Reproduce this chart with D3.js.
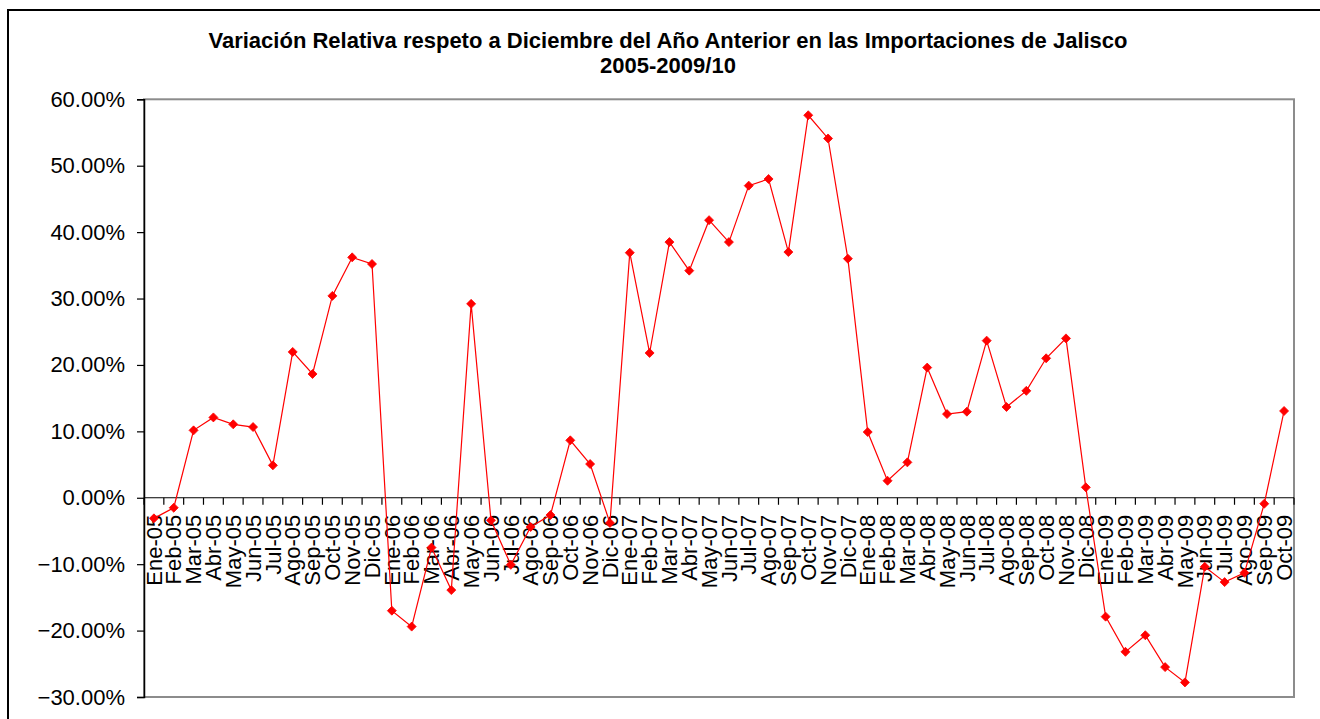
<!DOCTYPE html>
<html>
<head>
<meta charset="utf-8">
<script src="https://cdn.jsdelivr.net/npm/d3@7"></script>
<style>
  html, body { margin: 0; padding: 0; background: #fff; }
  svg { display: block; }
  text { font-family: Arial, "Liberation Sans", sans-serif; fill: #000; }
</style>
</head>
<body>
<svg id="chart" width="1320" height="719"></svg>
<script>
const categories = [
  "Ene-05","Feb-05","Mar-05","Abr-05","May-05","Jun-05","Jul-05","Ago-05","Sep-05","Oct-05","Nov-05","Dic-05",
  "Ene-06","Feb-06","Mar-06","Abr-06","May-06","Jun-06","Jul-06","Ago-06","Sep-06","Oct-06","Nov-06","Dic-06",
  "Ene-07","Feb-07","Mar-07","Abr-07","May-07","Jun-07","Jul-07","Ago-07","Sep-07","Oct-07","Nov-07","Dic-07",
  "Ene-08","Feb-08","Mar-08","Abr-08","May-08","Jun-08","Jul-08","Ago-08","Sep-08","Oct-08","Nov-08","Dic-08",
  "Ene-09","Feb-09","Mar-09","Abr-09","May-09","Jun-09","Jul-09","Ago-09","Sep-09","Oct-09"
];
const variacion = [
  -0.031, -0.015, 0.1015, 0.121, 0.1106, 0.1065, 0.0488, 0.2196, 0.1864, 0.304, 0.362, 0.352,
  -0.170, -0.194, -0.075, -0.139, 0.292, -0.034, -0.101, -0.044, -0.026, 0.0865, 0.0508, -0.038,
  0.369, 0.218, 0.385, 0.342, 0.418, 0.385, 0.470, 0.480, 0.370, 0.576, 0.541, 0.360,
  0.099, 0.0256, 0.0533, 0.196, 0.126, 0.1296, 0.2366, 0.1367, 0.161, 0.210, 0.240, 0.0157,
  -0.179, -0.232, -0.207, -0.255, -0.278, -0.104, -0.127, -0.113, -0.009, 0.1307
];
const yTicks = [-0.3, -0.2, -0.1, 0, 0.1, 0.2, 0.3, 0.4, 0.5, 0.6];
const titleLines = [
  "Variación Relativa respeto a Diciembre del Año Anterior en las Importaciones de Jalisco",
  "2005-2009/10"
];

const svg = d3.select("#chart");
const plot = { left: 144, right: 1294, top: 99.3, bottom: 697 };

// outer chart border
svg.append("rect")
  .attr("x", 8).attr("y", 10).attr("width", 1340).attr("height", 740)
  .attr("fill", "#fff").attr("stroke", "#000").attr("stroke-width", 2);

// title
svg.append("g").selectAll("text").data(titleLines).join("text")
  .attr("x", 668).attr("y", (d, i) => 47.5 + i * 25.5)
  .attr("text-anchor", "middle")
  .attr("font-weight", "bold")
  .attr("font-size", "22px")
  .text(d => d);

const x = d3.scaleBand().domain(categories).range([plot.left, plot.right]).padding(0);
const y = d3.scaleLinear().domain([-0.3, 0.6]).range([plot.bottom, plot.top]);

// plot area border (gray)
svg.append("rect")
  .attr("x", plot.left).attr("y", plot.top)
  .attr("width", plot.right - plot.left).attr("height", plot.bottom - plot.top)
  .attr("fill", "none").attr("stroke", "#8c8c8c").attr("stroke-width", 2);

// y axis
const yAxis = d3.axisLeft(y).tickValues(yTicks).tickSize(7).tickPadding(12)
  .tickFormat(d => d3.format(".2f")(d * 100) + "%");
const gy = svg.append("g").attr("transform", `translate(${plot.left},0)`).call(yAxis);
gy.select(".domain").attr("stroke", "#000").attr("stroke-width", 1.5);
gy.selectAll(".tick line").attr("stroke", "#000").attr("stroke-width", 1.2);
gy.selectAll(".tick text").attr("font-size", "22px").attr("font-family", "Arial, 'Liberation Sans', sans-serif").attr("fill", "#000");

// x axis at zero: domain line + boundary ticks
const y0 = y(0);
const gx = svg.append("g");
gx.append("line")
  .attr("x1", plot.left).attr("x2", plot.right)
  .attr("y1", y0).attr("y2", y0)
  .attr("stroke", "#000").attr("stroke-width", 1.2);
const bounds = categories.map(c => x(c)).concat([x(categories[categories.length - 1]) + x.bandwidth()]);
gx.selectAll("line.tk").data(bounds).join("line").attr("class", "tk")
  .attr("x1", d => d).attr("x2", d => d)
  .attr("y1", y0).attr("y2", y0 + 7)
  .attr("stroke", "#000").attr("stroke-width", 1.2);
gx.selectAll("text").data(categories).join("text")
  .attr("transform", d => `translate(${x(d) + x.bandwidth() / 2},${y0 + 17}) rotate(-90)`)
  .attr("text-anchor", "end")
  .attr("dy", "0.35em")
  .attr("font-size", "22px")
  .text(d => d);

// series line
const pts = categories.map((c, i) => ({ c, v: variacion[i] }));
svg.append("path")
  .datum(pts)
  .attr("fill", "none")
  .attr("stroke", "#ff0000")
  .attr("stroke-width", 1.2)
  .attr("d", d3.line().x(d => x(d.c) + x.bandwidth() / 2).y(d => y(d.v)));

// diamond markers
svg.append("g").selectAll("path").data(pts).join("path")
  .attr("transform", d => `translate(${x(d.c) + x.bandwidth() / 2},${y(d.v)})`)
  .attr("d", "M0,-4.5L4.5,0L0,4.5L-4.5,0Z")
  .attr("fill", "#ff0000")
  .attr("stroke", "#ff0000")
  .attr("stroke-width", 0.8);
</script>
</body>
</html>
